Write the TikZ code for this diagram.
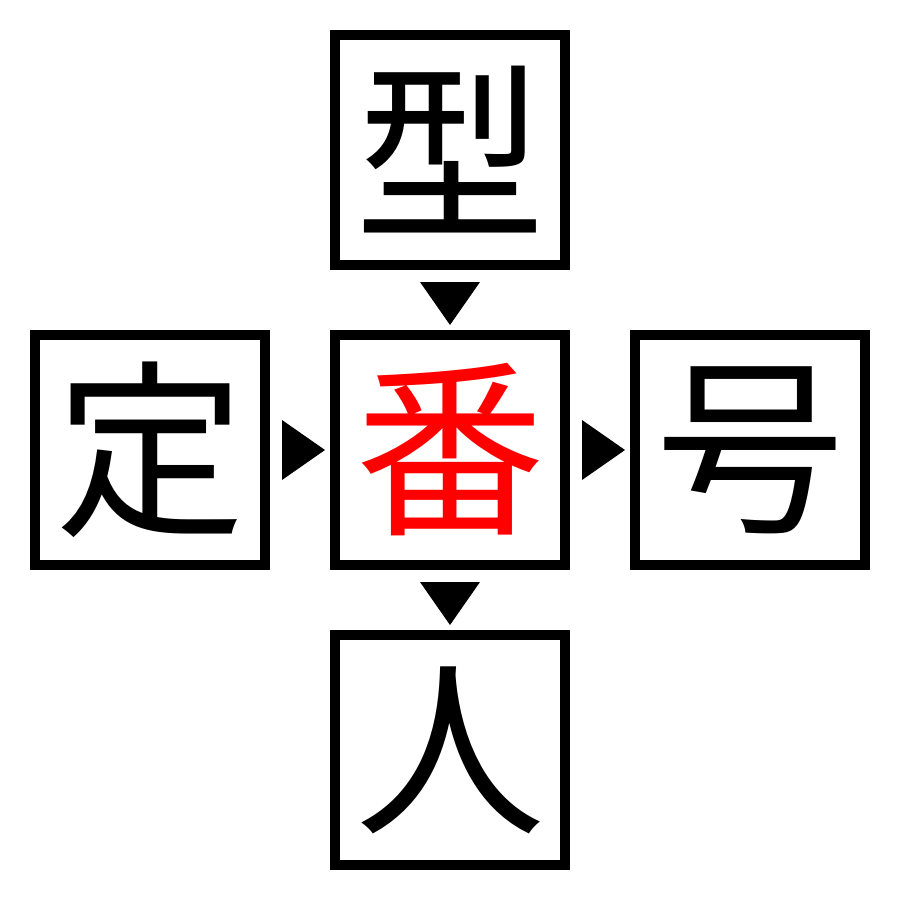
\documentclass[tikz,border=0pt]{standalone}
\usepackage{fontspec}
\usetikzlibrary{calc}
\newfontfamily\cjk{Noto Sans CJK JP}
\begin{document}
\begin{tikzpicture}[x=1pt,y=-1pt,
  charbox/.style={draw=black,line width=10pt,minimum size=230pt,inner sep=0pt,font=\cjk\fontsize{190}{190}\selectfont},
  tri/.style={fill=black,draw=none}]
\useasboundingbox (0,0) rectangle (900,900);
\node[charbox] (top) at (450,150) {型};
\node[charbox] (left) at (150,450) {定};
\node[charbox,text=red] (mid) at (450,450) {番};
\node[charbox] (right) at (750,450) {号};
\node[charbox] (bot) at (450,750) {人};
\coordinate (c1) at ($(top.south)!0.5!(mid.north)$);
\coordinate (c2) at ($(left.east)!0.5!(mid.west)$);
\coordinate (c3) at ($(mid.east)!0.5!(right.west)$);
\coordinate (c4) at ($(mid.south)!0.5!(bot.north)$);
\fill[tri] ($(c1)+(-30,-18)$) -- ($(c1)+(30,-18)$) -- ($(c1)+(0,25)$) -- cycle;
\fill[tri] ($(c2)+(-18,-30)$) -- ($(c2)+(-18,30)$) -- ($(c2)+(25,0)$) -- cycle;
\fill[tri] ($(c3)+(-18,-30)$) -- ($(c3)+(-18,30)$) -- ($(c3)+(25,0)$) -- cycle;
\fill[tri] ($(c4)+(-30,-18)$) -- ($(c4)+(30,-18)$) -- ($(c4)+(0,25)$) -- cycle;
\end{tikzpicture}
\end{document}
